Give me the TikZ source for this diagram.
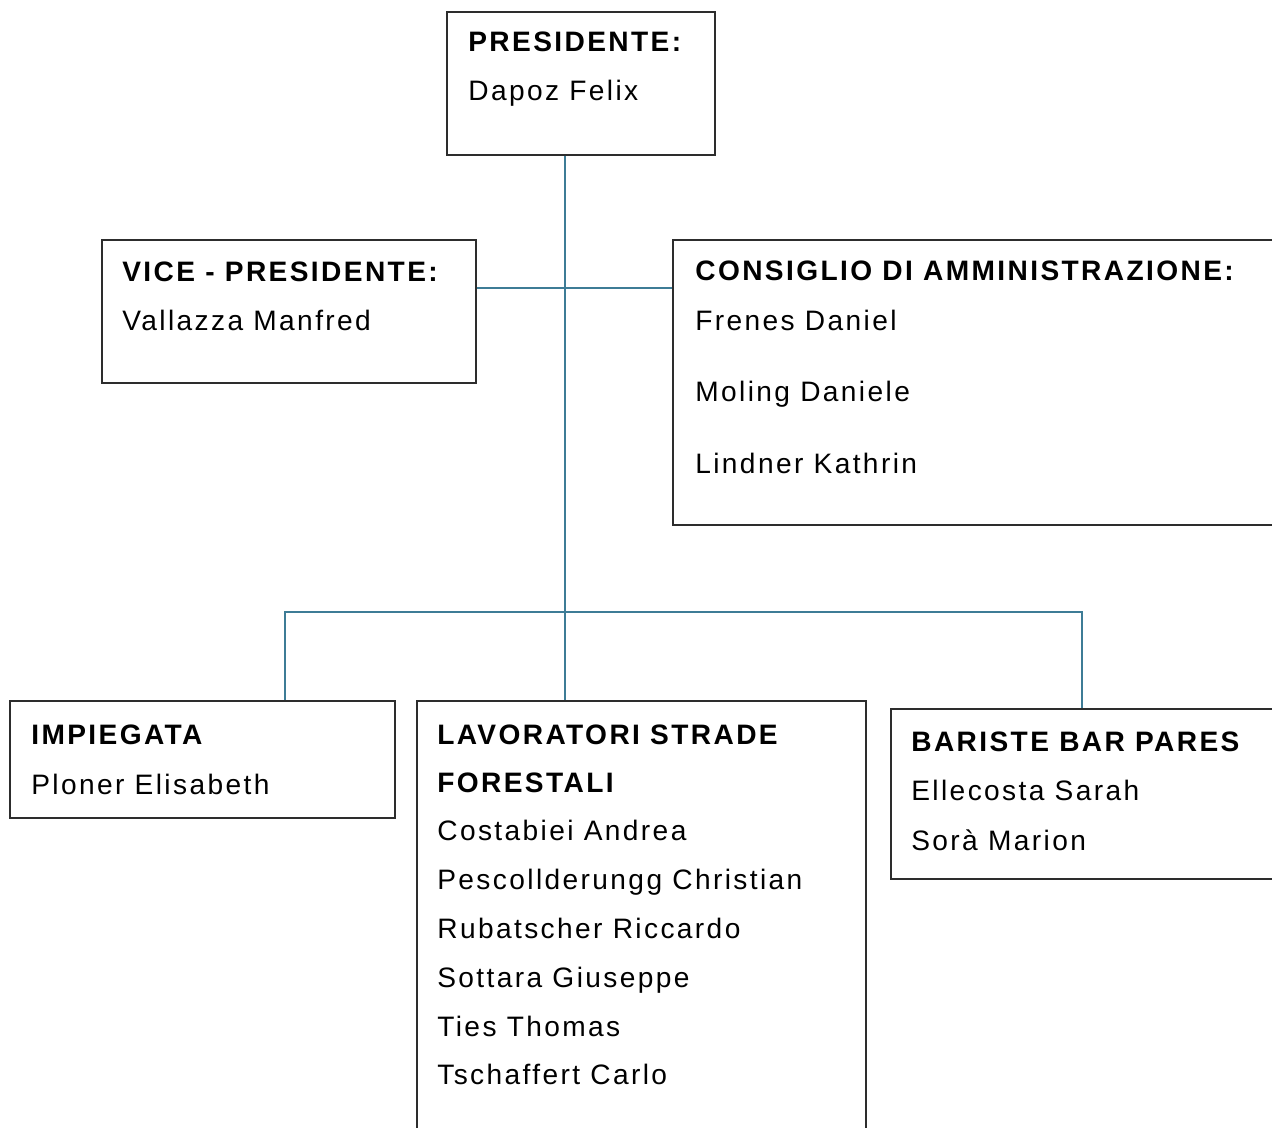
\documentclass[tikz,border=0pt]{standalone}
\usepackage{fontspec}
\setmainfont[LetterSpace=8.5]{Liberation Sans}
\definecolor{linkblue}{RGB}{62,124,150}
\definecolor{boxgray}{RGB}{45,45,45}
\tikzset{
  box/.style={draw=boxgray, line width=0.9pt, anchor=north west, inner sep=0pt},
  head/.style={anchor=base west, inner sep=0pt, font=\fontsize{16}{19}\selectfont\bfseries},
  member/.style={anchor=base west, inner sep=0pt, font=\fontsize{16}{19}\selectfont},
  link/.style={draw=linkblue, line width=0.85pt}
}
\begin{document}
\begin{tikzpicture}[x=0.02cm, y=-0.02cm]
\useasboundingbox (0,0) rectangle (1272,1128);
\clip (0,0) rectangle (1272,1128);

% boxes
\node[box, minimum width=268*0.02cm, minimum height=143*0.02cm] (pres) at (446,11) {};
\node[box, minimum width=374*0.02cm, minimum height=143*0.02cm] (vice) at (101,239) {};
\node[box, minimum width=640*0.02cm, minimum height=285*0.02cm] (cons) at (672,239) {};
\node[box, minimum width=385*0.02cm, minimum height=117*0.02cm] (imp) at (9,700) {};
\node[box, minimum width=449*0.02cm, minimum height=460*0.02cm] (lav) at (416,700) {};
\node[box, minimum width=420*0.02cm, minimum height=170*0.02cm] (bar) at (890,708) {};

% texts
\node[head] (pres-h) at (468,52) {PRESIDENTE:};
\node[member] (pres-1) at (468,101) {Dapoz Felix};

\node[head] (vice-h) at (122,282) {VICE - PRESIDENTE:};
\node[member] (vice-1) at (122,331) {Vallazza Manfred};

\node[head] (cons-h) at (695,281) {CONSIGLIO DI AMMINISTRAZIONE:};
\node[member] (cons-1) at (695,331) {Frenes Daniel};
\node[member] (cons-2) at (695,402) {Moling Daniele};
\node[member] (cons-3) at (695,474) {Lindner Kathrin};

\node[head] (imp-h) at (31,744) {IMPIEGATA};
\node[member] (imp-1) at (31,794) {Ploner Elisabeth};

\node[head] (lav-h) at (437,744) {LAVORATORI STRADE};
\node[head] (lav-h2) at (437,792) {FORESTALI};
\foreach \who [count=\i] in {Costabiei Andrea, Pescollderungg Christian, Rubatscher Riccardo,
    Sottara Giuseppe, Ties Thomas, Tschaffert Carlo}
  \node[member] (lav-\i) at (437,792+48.8*\i) {\who};

\node[head] (bar-h) at (911,751) {BARISTE BAR PARES};
\node[member] (bar-1) at (911,800) {Ellecosta Sarah};
\node[member] (bar-2) at (911,850) {Sorà Marion};

% connectors
\coordinate (hub) at (565,288);
\coordinate (fork-l) at (285,612);
\coordinate (fork-r) at (1082,612);
\draw[link] (pres.south -| hub) -- (lav.north -| hub);
\draw[link] (vice.east |- hub) -- (cons.west |- hub);
\draw[link] (imp.north -| fork-l) -- (fork-l) -- (fork-r) -- (bar.north -| fork-r);
\end{tikzpicture}
\end{document}
